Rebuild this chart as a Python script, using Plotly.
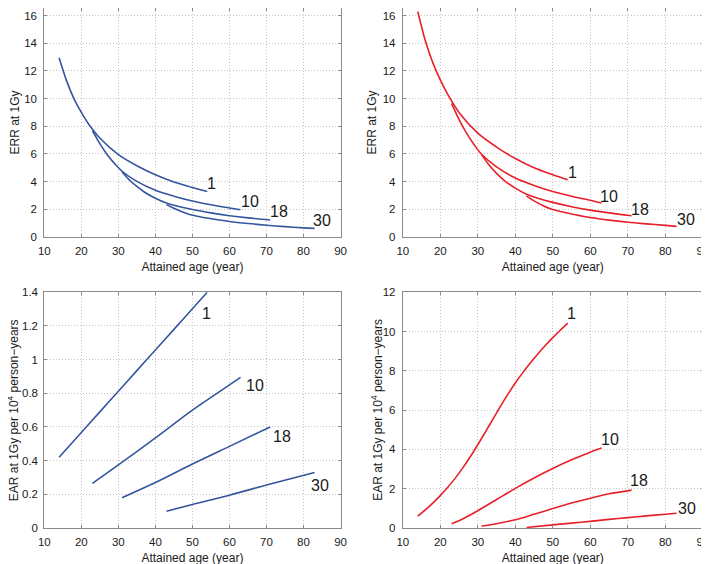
import plotly.graph_objects as go

# ---------------- data ----------------
labels = ["1", "10", "18", "30"]

# ERR at 1Gy (top row)
err_age_1 = [14, 16, 18, 20, 22, 25, 30, 35, 40, 45, 50, 54]
err_age_10 = [23, 25, 27, 29, 31, 35, 40, 45, 50, 55, 60, 63]
err_age_18 = [31, 33, 35, 37, 40, 43, 46, 50, 55, 60, 65, 71]
err_age_30 = [43, 45, 47, 49, 52, 56, 60, 65, 70, 75, 80, 83]

err_blue_1 = [12.95, 11.3, 10.0, 9.0, 8.15, 7.15, 5.95, 5.15, 4.5, 3.98, 3.58, 3.28]
err_blue_10 = [7.67, 6.75, 5.95, 5.3, 4.75, 4.02, 3.38, 2.95, 2.6, 2.33, 2.1, 1.97]
err_blue_18 = [4.70, 4.12, 3.65, 3.25, 2.80, 2.45, 2.22, 1.98, 1.74, 1.54, 1.38, 1.23]
err_blue_30 = [2.34, 2.07, 1.84, 1.64, 1.46, 1.28, 1.12, 0.97, 0.85, 0.75, 0.66, 0.62]

err_red_1 = [16.3, 14.2, 12.6, 11.35, 10.3, 9.0, 7.5, 6.5, 5.67, 5.0, 4.5, 4.13]
err_red_10 = [9.66, 8.5, 7.5, 6.68, 5.98, 5.07, 4.26, 3.72, 3.28, 2.94, 2.65, 2.45]
err_red_18 = [5.95, 5.2, 4.6, 4.1, 3.53, 3.09, 2.8, 2.5, 2.19, 1.94, 1.74, 1.54]
err_red_30 = [2.95, 2.61, 2.32, 2.07, 1.84, 1.61, 1.41, 1.22, 1.07, 0.95, 0.84, 0.77]

# EAR at 1Gy per 10^4 person-years (bottom row)
ear_blue_age_1 = [14, 20, 25, 30, 35, 40, 45, 50, 54]
ear_blue_1 = [0.42, 0.567, 0.69, 0.812, 0.935, 1.057, 1.18, 1.302, 1.40]
ear_blue_age_10 = [23, 30, 40, 50, 60, 63]
ear_blue_10 = [0.265, 0.375, 0.535, 0.70, 0.85, 0.895]
ear_blue_age_18 = [31, 40, 50, 60, 71]
ear_blue_18 = [0.18, 0.27, 0.38, 0.485, 0.60]
ear_blue_age_30 = [43, 50, 60, 70, 83]
ear_blue_30 = [0.10, 0.14, 0.195, 0.255, 0.33]

ear_red_age_1 = [14, 16, 18, 20, 22, 24, 26, 28, 30, 32, 34, 36, 38, 40, 42, 44, 46, 48, 50, 52, 54]
ear_red_1 = [0.60, 0.92, 1.27, 1.65, 2.07, 2.54, 3.06, 3.63, 4.24, 4.88, 5.53, 6.18, 6.80,
             7.38, 7.91, 8.40, 8.86, 9.29, 9.69, 10.07, 10.43]
ear_red_age_10 = [23, 25, 30, 35, 40, 45, 50, 55, 60, 63]
ear_red_10 = [0.22, 0.37, 0.88, 1.45, 2.02, 2.55, 3.03, 3.47, 3.86, 4.07]
ear_red_age_18 = [31, 35, 40, 45, 50, 55, 60, 65, 71]
ear_red_18 = [0.10, 0.22, 0.42, 0.70, 0.99, 1.27, 1.52, 1.74, 1.93]
ear_red_age_30 = [43, 50, 55, 60, 65, 70, 75, 80, 83]
ear_red_30 = [0.03, 0.16, 0.25, 0.34, 0.44, 0.53, 0.62, 0.70, 0.75]

x_ticks = [10, 20, 30, 40, 50, 60, 70, 80, 90]
err_ticks = [0, 2, 4, 6, 8, 10, 12, 14, 16]
ear_blue_ticks = [0, 0.2, 0.4, 0.6, 0.8, 1, 1.2, 1.4]
ear_blue_ticktext = ["0", "0.2", "0.4", "0.6", "0.8", "1", "1.2", "1.4"]
ear_red_ticks = [0, 2, 4, 6, 8, 10, 12]

# ---------------- styling ----------------
BLUE = "#34569e"
RED = "#e8202a"
FONT = "Liberation Sans, Arial, sans-serif"
TXT = "#1a1a1a"
FRAME = "#8a8a8a"
GRID = "#c4c4c4"
TICK_SIZE = 11.5
TITLE_SIZE = 12

panels = [
    # (xaxis id, yaxis id, color, [(ages, values), ...], label offsets (px))
    ("x", "y", BLUE, [(err_age_1, err_blue_1), (err_age_10, err_blue_10),
                      (err_age_18, err_blue_18), (err_age_30, err_blue_30)],
     [(4, 8), (9, 8), (8.5, 8), (7.5, 8)]),
    ("x2", "y2", RED, [(err_age_1, err_red_1), (err_age_10, err_red_10),
                       (err_age_18, err_red_18), (err_age_30, err_red_30)],
     [(4.5, 7.5), (7.5, 6.5), (8.5, 6.5), (9, 7.3)]),
    ("x3", "y3", BLUE, [(ear_blue_age_1, ear_blue_1), (ear_blue_age_10, ear_blue_10),
                        (ear_blue_age_18, ear_blue_18), (ear_blue_age_30, ear_blue_30)],
     [(-0.7, -21), (14, -7.7), (12, -9.8), (5.6, -12.6)]),
    ("x4", "y4", RED, [(ear_red_age_1, ear_red_1), (ear_red_age_10, ear_red_10),
                       (ear_red_age_18, ear_red_18), (ear_red_age_30, ear_red_30)],
     [(3.2, 9.2), (8.3, 8.1), (7.1, 9.4), (10.3, 4.9)]),
]

fig = go.Figure()
annotations = []
for xa, ya, color, series, offsets in panels:
    for (ages, vals), lab, (dx, dy) in zip(series, labels, offsets):
        fig.add_trace(go.Scatter(
            x=ages, y=vals, mode="lines", xaxis=xa, yaxis=ya,
            line=dict(color=color, width=1.6, shape="spline", smoothing=0.9),
            showlegend=False, hoverinfo="x+y", name=lab))
        annotations.append(dict(
            x=ages[-1], y=vals[-1], xref=xa, yref=ya, text=lab, showarrow=False,
            xanchor="center", yanchor="middle", xshift=dx, yshift=dy,
            font=dict(family=FONT, size=16, color=TXT)))

def xaxis(domain, anchor):
    return dict(domain=domain, anchor=anchor, range=[10, 90], tickvals=x_ticks,
                automargin=False,
                showline=True, linecolor=FRAME, linewidth=1, mirror="ticks",
                ticks="inside", ticklen=3, tickcolor=FRAME,
                showgrid=True, gridcolor=GRID, griddash="1px,2px", gridwidth=1,
                zeroline=False, ticklabelstandoff=3,
                tickfont=dict(family=FONT, size=TICK_SIZE, color=TXT),
                title=dict(text="Attained age (year)", standoff=6,
                           font=dict(family=FONT, size=TITLE_SIZE, color=TXT)))

def yaxis(domain, anchor, rng, tickvals, title, ticktext=None, standoff=3):
    d = dict(domain=domain, anchor=anchor, range=rng, tickvals=tickvals,
             automargin=False,
             showline=True, linecolor=FRAME, linewidth=1, mirror="ticks",
             ticks="inside", ticklen=3, tickcolor=FRAME,
             showgrid=True, gridcolor=GRID, griddash="1px,2px", gridwidth=1,
             zeroline=False, ticklabelstandoff=4,
             tickfont=dict(family=FONT, size=TICK_SIZE, color=TXT),
             title=dict(text=title, standoff=standoff,
                        font=dict(family=FONT, size=TITLE_SIZE, color=TXT)))
    if ticktext is not None:
        d["ticktext"] = ticktext
    return d

# The page places the figure 8 px in from the window's top-left corner,
# so domains are set to land the plot frames where the reference has them.
XL = [0.0512, 0.4690]
XR = [0.5568, 0.9800]
YT = [0.5940, 1.0]
YB = [0.0780, 0.4959]
ERR_RANGE = [0, 16.55]
EAR_TITLE = "EAR at 1Gy per 10<sup>4</sup> person\u2212years"

# EAR y-axis titles placed as rotated text so they sit clear of the tick labels
ybot_mid = (YB[0] + YB[1]) / 2
annotations.append(dict(x=0.0, y=ybot_mid, xref="paper", yref="paper", text=EAR_TITLE,
                        textangle=-90, showarrow=False, xanchor="left", yanchor="middle",
                        xshift=-5, font=dict(family=FONT, size=TITLE_SIZE, color=TXT)))
annotations.append(dict(x=0.520, y=ybot_mid, xref="paper", yref="paper", text=EAR_TITLE,
                        textangle=-90, showarrow=False, xanchor="center", yanchor="middle",
                        font=dict(family=FONT, size=TITLE_SIZE, color=TXT)))

ax3 = yaxis(YB, "x3", [0, 1.4], ear_blue_ticks, "", ear_blue_ticktext)
ax3["ticklabelstandoff"] = 3
ax4 = yaxis(YB, "x4", [0, 12], ear_red_ticks, "")

fig.update_layout(
    width=709, height=564, margin=dict(l=0, r=0, t=0, b=0, autoexpand=False),
    paper_bgcolor="white", plot_bgcolor="white", showlegend=False,
    font=dict(family=FONT, color=TXT),
    xaxis=xaxis(XL, "y"), yaxis=yaxis(YT, "x", ERR_RANGE, err_ticks, "ERR at 1Gy"),
    xaxis2=xaxis(XR, "y2"), yaxis2=yaxis(YT, "x2", ERR_RANGE, err_ticks, "ERR at 1Gy"),
    xaxis3=xaxis(XL, "y3"), yaxis3=ax3,
    xaxis4=xaxis(XR, "y4"), yaxis4=ax4,
    annotations=annotations,
)

fig.write_html("out.html")
